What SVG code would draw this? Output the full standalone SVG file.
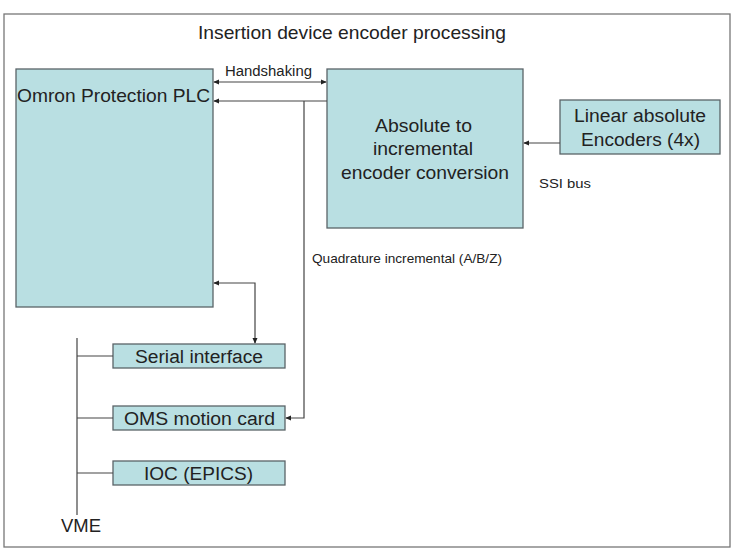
<svg xmlns="http://www.w3.org/2000/svg" width="731" height="550" viewBox="0 0 731 550">
<defs>
<style>
.box{fill:#b9dfe2;stroke:#5a6468;stroke-width:1.3}
.t{font-family:"Liberation Sans",Arial,sans-serif;fill:#222}
.ln{fill:none;stroke:#444;stroke-width:1.2}
</style>
<marker id="ah" viewBox="0 0 8 8" refX="7" refY="4" markerWidth="6" markerHeight="6" orient="auto-start-reverse" markerUnits="userSpaceOnUse">
<path d="M0,0.5 L8,4 L0,7.5 z" fill="#222"/>
</marker>
</defs>
<rect x="0" y="0" width="731" height="550" fill="#fff"/>
<rect x="4" y="14" width="726" height="533" fill="#fff" stroke="#777" stroke-width="1.3"/>
<text class="t" x="198" y="39" font-size="18.5" textLength="308" lengthAdjust="spacingAndGlyphs">Insertion device encoder processing</text>

<g id="plc">
<rect class="box" x="16" y="69" width="197" height="238"/>
<text class="t" x="17" y="102" font-size="18.5" textLength="193" lengthAdjust="spacingAndGlyphs">Omron Protection PLC</text>
</g>
<g id="conv">
<rect class="box" x="327" y="69" width="196" height="159"/>
<text class="t" x="375" y="132" font-size="18.5" textLength="97" lengthAdjust="spacingAndGlyphs">Absolute to</text>
<text class="t" x="373" y="155" font-size="18.5" textLength="100" lengthAdjust="spacingAndGlyphs">incremental</text>
<text class="t" x="341" y="179" font-size="18.5" textLength="168" lengthAdjust="spacingAndGlyphs">encoder conversion</text>
</g>
<g id="linear">
<rect class="box" x="560" y="100" width="160" height="54"/>
<text class="t" x="574" y="122" font-size="18" textLength="132" lengthAdjust="spacingAndGlyphs">Linear absolute</text>
<text class="t" x="581" y="146" font-size="18" textLength="119" lengthAdjust="spacingAndGlyphs">Encoders (4x)</text>
</g>
<g id="serial">
<rect class="box" x="113" y="344" width="172" height="24"/>
<text class="t" x="135" y="363" font-size="18" textLength="128" lengthAdjust="spacingAndGlyphs">Serial interface</text>
</g>
<g id="oms">
<rect class="box" x="113" y="406" width="172" height="24"/>
<text class="t" x="124" y="425" font-size="18" textLength="151" lengthAdjust="spacingAndGlyphs">OMS motion card</text>
</g>
<g id="ioc">
<rect class="box" x="113" y="461" width="172" height="24"/>
<text class="t" x="144" y="480" font-size="18" textLength="109" lengthAdjust="spacingAndGlyphs">IOC (EPICS)</text>
</g>
<g id="vme">
<text class="t" x="61" y="532" font-size="18" textLength="40" lengthAdjust="spacingAndGlyphs">VME</text>
</g>

<g id="connectors">
<line class="ln" x1="214" y1="82" x2="326" y2="82" marker-start="url(#ah)" marker-end="url(#ah)"/>
<line class="ln" x1="327" y1="101" x2="214" y2="101" marker-end="url(#ah)"/>
<polyline class="ln" points="304,101 304,418 286,418" marker-end="url(#ah)"/>
<polyline class="ln" points="214,283 255,283 255,343" marker-start="url(#ah)" marker-end="url(#ah)"/>
<line class="ln" x1="560" y1="143" x2="524" y2="143" stroke="#666" marker-end="url(#ah)"/>
<line class="ln" x1="77" y1="338" x2="77" y2="515"/>
<line class="ln" x1="77" y1="356" x2="113" y2="356"/>
<line class="ln" x1="77" y1="418" x2="113" y2="418"/>
<line class="ln" x1="77" y1="473" x2="113" y2="473"/>
</g>
<text class="t" x="225" y="76" font-size="14" textLength="87" lengthAdjust="spacingAndGlyphs">Handshaking</text>
<text class="t" x="539" y="188" font-size="13.5" textLength="52" lengthAdjust="spacingAndGlyphs">SSI bus</text>
<text class="t" x="312" y="263" font-size="13.5" textLength="190" lengthAdjust="spacingAndGlyphs">Quadrature incremental (A/B/Z)</text>
</svg>
